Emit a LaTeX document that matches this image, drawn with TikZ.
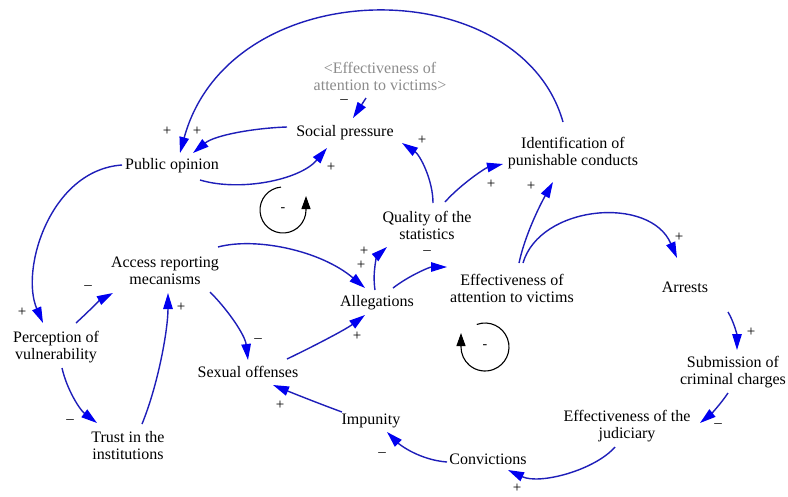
\documentclass[tikz,border=0pt]{standalone}
\usepackage{fontspec}
\setmainfont{Liberation Serif}
\newfontfamily\diagfont{Liberation Serif}
\usetikzlibrary{arrows.meta,calc}
\definecolor{linkblue}{RGB}{30,30,185}
\definecolor{tipblue}{RGB}{0,0,240}
\definecolor{shadowgray}{RGB}{140,140,140}
\begin{document}
\begin{tikzpicture}[x=1pt,y=-1pt,
  var/.style={align=center,font=\diagfont\fontsize{16}{17}\selectfont,inner sep=0pt},
  link/.style={draw=linkblue,line width=1.4pt,-{Triangle[length=16pt,width=9.5pt,color=tipblue]}},
  pol/.style={font=\diagfont\fontsize{15}{15}\selectfont,inner sep=0pt},
  loopline/.style={draw=black,line width=1.1pt,-{Triangle[length=13pt,width=9pt]}},
  loopsign/.style={font=\diagfont\fontsize{14}{14}\selectfont,inner sep=0pt}]
\useasboundingbox[fill=white] (0,0) rectangle (788,496);

% variables
\node[var,text=shadowgray] (eav) at (380,76) {<Effectiveness of\\attention to victims>};
\node[var] (soc) at (345,133) {Social pressure};
\node[var] (pub) at (172,166) {Public opinion};
\node[var] (qual) at (427,225) {Quality of the\\statistics};
\node[var] (ident) at (573,153) {Identification of\\punishable conducts};
\node[var] (eff) at (512,288) {Effectiveness of\\attention to victims};
\node[var] (arr) at (685,287) {Arrests};
\node[var] (alle) at (377,303) {Allegations};
\node[var] (subm) at (733,372) {Submission of\\criminal charges};
\node[var] (jud) at (627,426) {Effectiveness of the\\judiciary};
\node[var] (imp) at (371,421) {Impunity};
\node[var] (conv) at (488,459) {Convictions};
\node[var] (acc) at (165,271) {Access reporting\\mecanisms};
\node[var] (perc) at (56,347) {Perception of\\vulnerability};
\node[var] (sex) at (248,372) {Sexual offenses};
\node[var] (trust) at (128,446) {Trust in the\\institutions};

% links
\draw[link] ($(ident)+(-10,-31)$) .. controls +(-43,-152) and +(50,-183) .. ($(pub)+(8,-13)$);
\draw[link] ($(soc)+(-58,-6)$) .. controls +(-32,1) and +(22,-18) .. ($(pub)+(21,-13)$);
\draw[link] ($(pub)+(28,14)$) .. controls +(40,12) and +(-27,32) .. ($(soc)+(-18,15)$);
\draw[link] ($(eav)+(-14,22)$) -- ($(soc)+(8,-15)$);
\draw[link] ($(qual)+(6,-22)$) .. controls +(0,-23) and +(18,12) .. ($(soc)+(57,10)$);
\draw[link] ($(qual)+(18,-23)$) .. controls +(15,-17) and +(-18,4) .. ($(ident)+(-70,11)$);
\draw[link] ($(eff)+(7,-25)$) .. controls +(6,-28) and +(-13,23) .. ($(ident)+(-20,29)$);
\draw[link] ($(eff)+(11,-25)$) .. controls +(17,-58) and +(-27,-63) .. ($(arr)+(-8,-29)$);
\draw[link] ($(alle)+(-2,-13)$) .. controls +(-3,-20) and +(-9,8) .. ($(qual)+(-40,22)$);
\draw[link] ($(alle)+(16,-15)$) .. controls +(17,-13) and +(-17,0) .. ($(eff)+(-65,-21)$);
\draw[link] ($(acc)+(53,-24)$) .. controls +(37,-10) and +(-45,-38) .. ($(alle)+(-12,-15)$);
\draw[link] ($(acc)+(45,21)$) .. controls +(18,18) and +(-3,-25) .. ($(sex)+(0,-12)$);
\draw[link] ($(sex)+(39,-13)$) .. controls +(23,-11) and +(-20,15) .. ($(alle)+(-12,12)$);
\draw[link] ($(imp)+(-29,-9)$) .. controls +(-22,-8) and +(17,7) .. ($(sex)+(25,13)$);
\draw[link] ($(pub)+(-50,-1)$) .. controls +(-72,5) and +(-23,-53) .. ($(perc)+(-13,-24)$);
\draw[link] ($(perc)+(20,-24)$) .. controls +(12,-11) and +(-13,7) .. ($(acc)+(-52,22)$);
\draw[link] ($(perc)+(6,21)$) .. controls +(5,22) and +(-17,-13) .. ($(trust)+(-31,-23)$);
\draw[link] ($(trust)+(14,-22)$) .. controls +(16,-39) and +(0,37) .. ($(acc)+(3,22)$);
\draw[link] ($(arr)+(43,25)$) .. controls +(6,10) and +(0,-15) .. ($(subm)+(4,-22)$);
\draw[link] ($(subm)+(-5,21)$) .. controls +(-8,12) and +(10,-8) .. ($(jud)+(73,-3)$);
\draw[link] ($(jud)+(-12,21)$) .. controls +(-20,23) and +(32,15) .. ($(conv)+(20,11)$);
\draw[link] ($(conv)+(-41,3)$) .. controls +(-27,-2) and +(13,13) .. ($(imp)+(16,11)$);

% polarities
\node[pol] (s1) at (167,131) {+};
\node[pol] (s2) at (197,131) {+};
\node[pol] (s3) at (331,167) {+};
\node[pol] (s4) at (344,102) {–};
\node[pol] (s5) at (422,140) {+};
\node[pol] (s6) at (491,184) {+};
\node[pol] (s7) at (531,186) {+};
\node[pol] (s8) at (679,237) {+};
\node[pol] (s9) at (364,251) {+};
\node[pol] (s10) at (361,265) {+};
\node[pol] (s11) at (427,253) {–};
\node[pol] (s12) at (357,336) {+};
\node[pol] (s13) at (258,341) {–};
\node[pol] (s14) at (280,405) {+};
\node[pol] (s15) at (22,312) {+};
\node[pol] (s16) at (88,288) {–};
\node[pol] (s17) at (70,422) {–};
\node[pol] (s18) at (181,307) {+};
\node[pol] (s19) at (751,332) {+};
\node[pol] (s20) at (718,426) {–};
\node[pol] (s21) at (517,488) {+};
\node[pol] (s22) at (382,455) {–};

% loop markers
\node[loopsign] (loopA) at (283,210) {-};
\draw[loopline] ($(loopA)+(95:23pt)$) arc[start angle=95,end angle=360,radius=23pt] -- ++(0,-14);
\node[loopsign] (loopB) at (485,347) {-};
\draw[loopline] ($(loopB)+(110:24pt)$) arc[start angle=110,end angle=-180,radius=24pt] -- ++(0,-14);
\end{tikzpicture}
\end{document}
